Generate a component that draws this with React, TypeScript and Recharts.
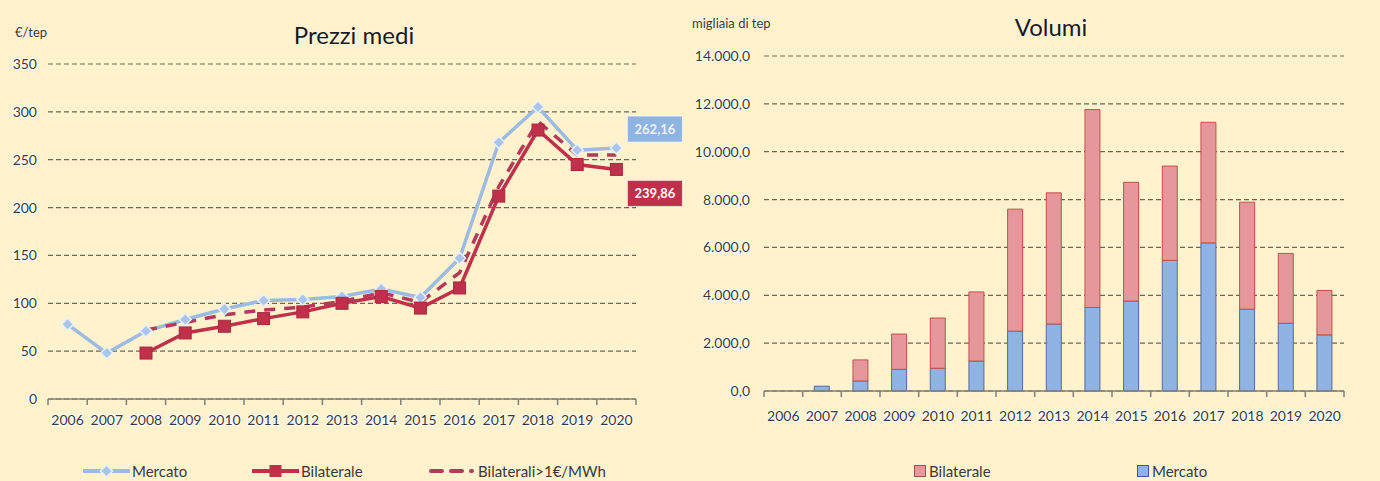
import React from 'react';
import { LineChart, Line, BarChart, Bar, XAxis, YAxis, CartesianGrid, Legend, LabelList } from 'recharts';

const years = ['2006', '2007', '2008', '2009', '2010', '2011', '2012', '2013', '2014', '2015', '2016', '2017', '2018', '2019', '2020'];

// Prezzi medi (€/tep)
const mercatoPrezzi = [78, 48, 71, 83, 94, 103, 104, 107, 115, 106, 147, 268, 305, 260, 262.16];
const bilateralePrezzi = [null, null, 48, 69, 76, 84, 91, 100, 107, 95, 116, 212, 281, 245, 239.86];
const bilateraliOltre1Prezzi = [null, null, 72, 80, 88, 93, 96, 102, 111, 101, 132, 222, 290, 255, 255];
const prezziTicks = [0, 50, 100, 150, 200, 250, 300, 350];

// Volumi (migliaia di tep)
const mercatoVolumi = [0, 200, 420, 905, 950, 1250, 2500, 2800, 3490, 3760, 5460, 6190, 3420, 2830, 2346];
const bilateraleVolumi = [0, 0, 880, 1475, 2100, 2890, 5100, 5480, 8270, 4960, 3940, 5040, 4470, 2920, 1856];
const volumiTicks = [0, 2000, 4000, 6000, 8000, 10000, 12000, 14000];

const prezziData = years.map((year, i) => ({
  year,
  mercato: mercatoPrezzi[i],
  bilaterale: bilateralePrezzi[i],
  bilaterali1: bilateraliOltre1Prezzi[i],
}));
const volumiData = years.map((year, i) => ({
  year,
  mercato: mercatoVolumi[i],
  bilaterale: bilateraleVolumi[i],
}));

const BG = '#FFF2CC';
const FONT = 'Lato, "Open Sans", sans-serif';
const TEXT = '#3a3a3a';
const C_MERCATO = '#9BBBE3';
const C_BIL = '#C0304A';
const C_BIL1 = '#B43A5C';
const C_BAR_M = '#8FB4E3';
const C_BAR_B = '#E6979C';

const CH_W = 690;
const CH_H = 481;
const X_AXIS_H = 30;
const LEFT_MARGIN = { top: 64, right: 54, left: 8, bottom: 52 };
const RIGHT_MARGIN = { top: 56, right: 36, left: 4, bottom: 60 };
const LEFT_Y_W = 40;
const RIGHT_Y_W = 70;
const LEFT_PLOT_W = CH_W - LEFT_MARGIN.left - LEFT_Y_W - LEFT_MARGIN.right;
const RIGHT_PLOT_W = CH_W - RIGHT_MARGIN.left - RIGHT_Y_W - RIGHT_MARGIN.right;
const LEFT_BAND = LEFT_PLOT_W / years.length;
const RIGHT_BAND = RIGHT_PLOT_W / years.length;
const LEFT_AXIS_Y = CH_H - LEFT_MARGIN.bottom - X_AXIS_H;
const RIGHT_AXIS_Y = CH_H - RIGHT_MARGIN.bottom - X_AXIS_H;

const fmtIt = (v: number, dec: number) => {
  const fixed = v.toFixed(dec);
  const [intPart, decPart] = fixed.split('.');
  const grouped = intPart.replace(/\B(?=(\d{3})+(?!\d))/g, '.');
  return decPart !== undefined ? `${grouped},${decPart}` : grouped;
};

const haloText = { stroke: '#ffffff', strokeWidth: 2.2, paintOrder: 'stroke' as const, strokeLinejoin: 'round' as const };

const makeYearTick = (band: number, count: number, axisY: number, textDy: number) => (props: any) => {
  const { x, payload, index } = props;
  return (
    <g>
      <line x1={x - band / 2} x2={x - band / 2} y1={axisY} y2={axisY + 6} stroke="#7f7f7f" strokeWidth={1.5} />
      {index === count - 1 && (
        <line x1={x + band / 2} x2={x + band / 2} y1={axisY} y2={axisY + 6} stroke="#7f7f7f" strokeWidth={1.5} />
      )}
      <text
        x={x}
        y={axisY + textDy}
        textAnchor="middle"
        dominantBaseline="central"
        fontFamily={FONT}
        fontSize={14}
        fill={TEXT}
        {...haloText}
      >
        {payload.value}
      </text>
    </g>
  );
};

const Diamond = (props: any) => {
  const { cx, cy } = props;
  if (cx == null || cy == null || props.value == null) return <g />;
  const r = 6;
  return (
    <polygon
      points={`${cx},${cy - r} ${cx + r},${cy} ${cx},${cy + r} ${cx - r},${cy}`}
      fill="#A9C6EA"
      stroke="#EAF1FA"
      strokeWidth={1.5}
    />
  );
};

const Square = (props: any) => {
  const { cx, cy } = props;
  if (cx == null || cy == null || props.value == null) return <g />;
  const r = 6;
  return <rect x={cx - r} y={cy - r} width={2 * r} height={2 * r} fill={C_BIL} stroke="#A82840" strokeWidth={1} />;
};

const lineEndLabel = (bg: string, fg: string, dy: number, last: number) => (props: any) => {
  const { x, y, index, value } = props;
  if (index !== last || value == null) return <g />;
  return (
    <g>
      <rect x={x + 11} y={y + dy} width={55} height={26} fill={bg} stroke="#ffffff" strokeOpacity={0.6} strokeWidth={1} />
      <text
        x={x + 38.5}
        y={y + dy + 13}
        textAnchor="middle"
        dominantBaseline="central"
        fontFamily={FONT}
        fontSize={13}
        fontWeight={700}
        fill={fg}
      >
        {fmtIt(value, 2)}
      </text>
    </g>
  );
};

const barEndLabel = (bg: string, last: number) => (props: any) => {
  const { x, y, width, height, index, value } = props;
  if (index !== last || value == null) return <g />;
  const cy = y + height / 2;
  return (
    <g>
      <rect x={x + width - 1} y={cy - 12} width={50} height={25} fill={bg} />
      <text
        x={x + width + 4}
        y={cy + 1}
        textAnchor="start"
        dominantBaseline="central"
        fontFamily={FONT}
        fontSize={13}
        fontWeight={700}
        fill="#ffffff"
      >
        {fmtIt(value, 0)}
      </text>
    </g>
  );
};

const PrezziLegend = () => (
  <div style={{ position: 'relative', width: 690, height: 20, fontFamily: FONT, fontSize: 15, color: TEXT }}>
    <div style={{ position: 'absolute', left: 83, top: 0, display: 'flex', alignItems: 'center', height: 20 }}>
      <svg width={47} height={14}>
        <line x1={0} x2={47} y1={7} y2={7} stroke={C_MERCATO} strokeWidth={4} />
        <polygon points="23.5,1 29.5,7 23.5,13 17.5,7" fill="#A9C6EA" stroke="#EAF1FA" strokeWidth={1.5} />
      </svg>
      <span style={{ marginLeft: 2 }}>Mercato</span>
    </div>
    <div style={{ position: 'absolute', left: 252, top: 0, display: 'flex', alignItems: 'center', height: 20 }}>
      <svg width={47} height={14}>
        <line x1={0} x2={47} y1={7} y2={7} stroke={C_BIL} strokeWidth={4} />
        <rect x={17.5} y={1} width={12} height={12} fill={C_BIL} />
      </svg>
      <span style={{ marginLeft: 2 }}>Bilaterale</span>
    </div>
    <div style={{ position: 'absolute', left: 429, top: 0, display: 'flex', alignItems: 'center', height: 20 }}>
      <svg width={45} height={14}>
        <line x1={2} x2={43} y1={7} y2={7} stroke={C_BIL1} strokeWidth={4} strokeDasharray="11 9" strokeLinecap="round" />
      </svg>
      <span style={{ marginLeft: 4 }}>Bilaterali&gt;1€/MWh</span>
    </div>
  </div>
);

const VolumiLegend = () => (
  <div style={{ position: 'relative', width: 690, height: 20, fontFamily: FONT, fontSize: 15, color: TEXT }}>
    <div style={{ position: 'absolute', left: 224, top: 0, display: 'flex', alignItems: 'center', height: 20 }}>
      <span style={{ display: 'inline-block', width: 10, height: 10, background: C_BAR_B, border: '1px solid #A0505A' }} />
      <span style={{ marginLeft: 3 }}>Bilaterale</span>
    </div>
    <div style={{ position: 'absolute', left: 447, top: 0, display: 'flex', alignItems: 'center', height: 20 }}>
      <span style={{ display: 'inline-block', width: 10, height: 10, background: C_BAR_M, border: '1px solid #405A90' }} />
      <span style={{ marginLeft: 3 }}>Mercato</span>
    </div>
  </div>
);

export default function App() {
  const last = years.length - 1;
  return (
    <div style={{ position: 'absolute', left: 0, top: 0, width: 1380, height: 481, background: BG, overflow: 'hidden', fontFamily: FONT }}>
      <div style={{ position: 'absolute', left: 0, top: 0, width: CH_W, height: CH_H }}>
        <LineChart width={CH_W} height={CH_H} data={prezziData} margin={LEFT_MARGIN}>
          <CartesianGrid vertical={false} stroke="#666666" strokeDasharray="5 3" strokeWidth={1.2} />
          <XAxis
            dataKey="year"
            height={X_AXIS_H}
            interval={0}
            padding={{ left: LEFT_BAND / 2, right: LEFT_BAND / 2 }}
            axisLine={{ stroke: '#7f7f7f', strokeWidth: 1.5 }}
            tickLine={false}
            tick={makeYearTick(LEFT_BAND, years.length, LEFT_AXIS_Y, 20)}
          />
          <YAxis
            width={LEFT_Y_W}
            domain={[0, 350]}
            ticks={prezziTicks}
            axisLine={false}
            tickLine={false}
            tickMargin={5}
            tick={{ fill: TEXT, fontSize: 14, fontFamily: FONT, ...haloText }}
          />
          <Legend verticalAlign="middle" align="center" layout="horizontal" wrapperStyle={{ top: 461, left: 0, width: 690, height: 20 }} content={() => <PrezziLegend />} />
          <Line
            dataKey="mercato"
            stroke={C_MERCATO}
            strokeWidth={3.5}
            dot={<Diamond />}
            activeDot={false}
            isAnimationActive={false}
            label={lineEndLabel('#8DB4E2', '#EEF3FA', -32, last)}
          />
          <Line
            dataKey="bilaterale"
            stroke={C_BIL}
            strokeWidth={3.5}
            dot={<Square />}
            activeDot={false}
            isAnimationActive={false}
            label={lineEndLabel('#C0304A', '#ffffff', 11, last)}
          />
          <Line
            dataKey="bilaterali1"
            stroke={C_BIL1}
            strokeWidth={3.5}
            strokeDasharray="11 9"
            dot={false}
            activeDot={false}
            isAnimationActive={false}
          />
        </LineChart>
      </div>

      <div style={{ position: 'absolute', left: 690, top: 0, width: CH_W, height: CH_H }}>
        <BarChart width={CH_W} height={CH_H} data={volumiData} margin={RIGHT_MARGIN} barCategoryGap="30%">
          <CartesianGrid vertical={false} stroke="#666666" strokeDasharray="5 3" strokeWidth={1.2} />
          <XAxis
            dataKey="year"
            height={X_AXIS_H}
            interval={0}
            axisLine={{ stroke: '#7f7f7f', strokeWidth: 1.5 }}
            tickLine={false}
            tick={makeYearTick(RIGHT_BAND, years.length, RIGHT_AXIS_Y, 24)}
          />
          <YAxis
            width={RIGHT_Y_W}
            domain={[0, 14000]}
            ticks={volumiTicks}
            axisLine={false}
            tickLine={false}
            tickMargin={8}
            tickFormatter={(v: number) => fmtIt(v, 1)}
            tick={{ fill: TEXT, fontSize: 14, fontFamily: FONT, ...haloText }}
          />
          <Legend verticalAlign="middle" align="center" layout="horizontal" wrapperStyle={{ top: 461, left: 0, width: 690, height: 20 }} content={() => <VolumiLegend />} />
          <Bar dataKey="mercato" stackId="v" fill={C_BAR_M} stroke="#55699A" strokeWidth={1} isAnimationActive={false}>
            <LabelList dataKey="mercato" content={barEndLabel('#1F3864', last)} />
          </Bar>
          <Bar dataKey="bilaterale" stackId="v" fill={C_BAR_B} stroke="#C0504D" strokeWidth={1} isAnimationActive={false}>
            <LabelList dataKey="bilaterale" content={barEndLabel('#C0304A', last)} />
          </Bar>
        </BarChart>
      </div>

      <div style={{ position: 'absolute', left: 254, top: 20, width: 200, textAlign: 'center', fontSize: 24, lineHeight: '30px', color: '#1a1a1a', textShadow: '0 0 2px #fff' }}>
        Prezzi medi
      </div>
      <div style={{ position: 'absolute', left: 951, top: 12, width: 200, textAlign: 'center', fontSize: 24, lineHeight: '30px', color: '#1a1a1a', textShadow: '0 0 2px #fff' }}>
        Volumi
      </div>
      <div style={{ position: 'absolute', left: 15, top: 23, fontSize: 13, lineHeight: '18px', color: TEXT, textShadow: '0 0 2px #fff' }}>
        €/tep
      </div>
      <div style={{ position: 'absolute', left: 692, top: 14, fontSize: 13, lineHeight: '18px', color: TEXT, textShadow: '0 0 2px #fff' }}>
        migliaia di tep
      </div>
    </div>
  );
}
